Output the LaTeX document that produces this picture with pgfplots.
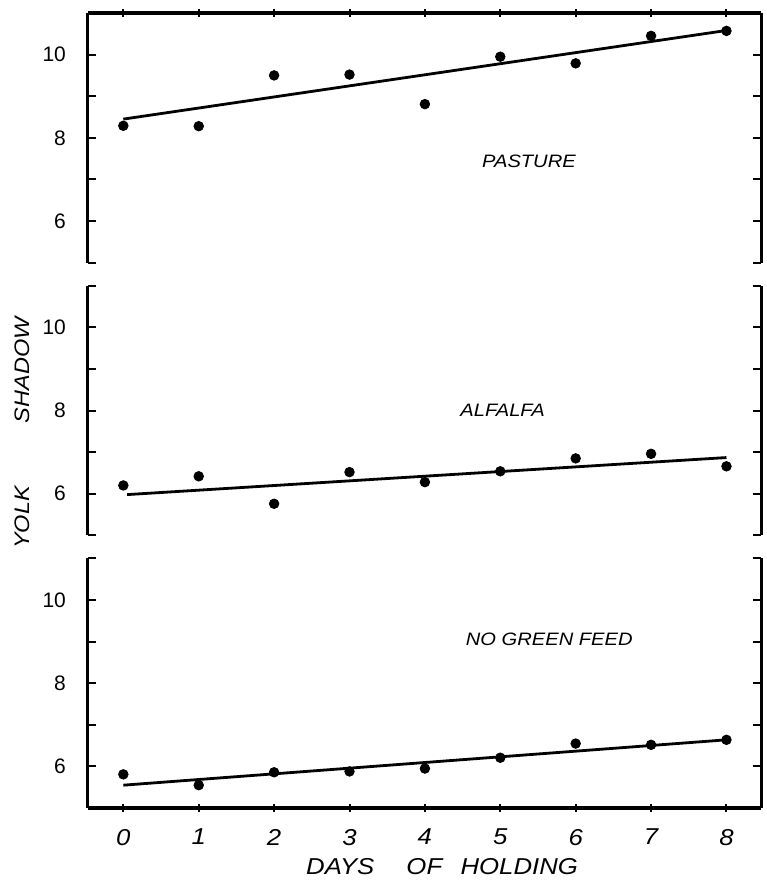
\documentclass[border=0pt]{standalone}
\usepackage{fontspec}
\setmainfont{Liberation Sans}
\newfontfamily\lettering{Liberation Sans}[FakeStretch=1.12]
\usepackage{pgfplots}
\pgfplotsset{compat=1.18}

\pgfplotsset{
  panel/.style={
    width=337pt, height=125pt, scale only axis,
    xmin=-0.47, xmax=8.46, ymin=5, ymax=11,
    xtick={0,...,8},
    ytick={6,8,10}, minor ytick={5,7,9,11},
    tick style={line width=1pt, black},
    major tick length=4pt, minor tick length=4pt,
    tick label style={font=\fontsize{10.5}{12}\selectfont},
    /pgf/number format/assume math mode=true,
    yticklabel style={xshift=-7.5pt},
    clip=false,
  },
  heavy/.style={
    axis y line=box,
    yticklabel pos=left,
    axis line style={line width=1.6pt, -},
    x axis line style={line width=1.6pt, -},
    y axis line style={line width=1.6pt, -},
  },
  dots/.style={only marks, mark=*, mark size=2.4pt, black},
  fit/.style={line width=1.4pt, black},
}
\tikzset{tag/.style={font=\lettering\itshape\fontsize{9}{11}\selectfont}}

\begin{document}
\begin{tikzpicture}
% page frame, same proportions as the original
\useasboundingbox (-44pt,-435pt) rectangle (339.5pt,6.5pt);

% pasture
\begin{axis}[panel, name=top, at={(0,0)}, anchor=north west,
    axis x line=top, heavy, xticklabels={}, xticklabel style={overlay}]
\addplot[dots] coordinates {
  (0,8.29) (1,8.28) (2,9.50) (3,9.52) (4,8.81) (5,9.95) (6,9.79) (7,10.45) (8,10.57)
};
\addplot[fit] coordinates {(0,8.45) (8,10.58)};
\node[tag] at (axis cs:5.38,7.43) {PASTURE};
\end{axis}

% alfalfa
\begin{axis}[panel, name=mid, at={(top.south west)}, anchor=north west, yshift=-11.5pt,
    axis x line=none, heavy,
    ylabel={YOLK\hspace{3.0em}SHADOW},
    ylabel style={at={(axis description cs:-0.098,0.41)}, anchor=center,
      font=\lettering\itshape\fontsize{10.5}{12}\selectfont}]
\addplot[dots] coordinates {
  (0,6.20) (1,6.42) (2,5.76) (3,6.52) (4,6.28) (5,6.54) (6,6.85) (7,6.96) (8,6.66)
};
\addplot[fit] coordinates {(0.05,5.98) (8,6.87)};
\node[tag] at (axis cs:5.03,8.0) {ALFALFA};
\end{axis}

% no green feed
\begin{axis}[panel, name=bot, at={(mid.south west)}, anchor=north west, yshift=-11.5pt,
    axis x line=bottom, heavy,
    xticklabel style={font=\lettering\itshape\fontsize{11.5}{13}\selectfont, yshift=-5pt},
    xlabel={DAYS\hspace{1.4em}OF\hspace{0.8em}HOLDING},
    xlabel style={at={(axis description cs:0.526,-0.234)}, anchor=center,
      font=\lettering\itshape\fontsize{11.5}{13}\selectfont}]
\addplot[dots] coordinates {
  (0,5.81) (1,5.55) (2,5.86) (3,5.88) (4,5.95) (5,6.21) (6,6.55) (7,6.52) (8,6.64)
};
\addplot[fit] coordinates {(0,5.55) (8,6.64)};
\node[tag] at (axis cs:5.65,9.05) {NO GREEN FEED};
\end{axis}
\end{tikzpicture}
\end{document}
